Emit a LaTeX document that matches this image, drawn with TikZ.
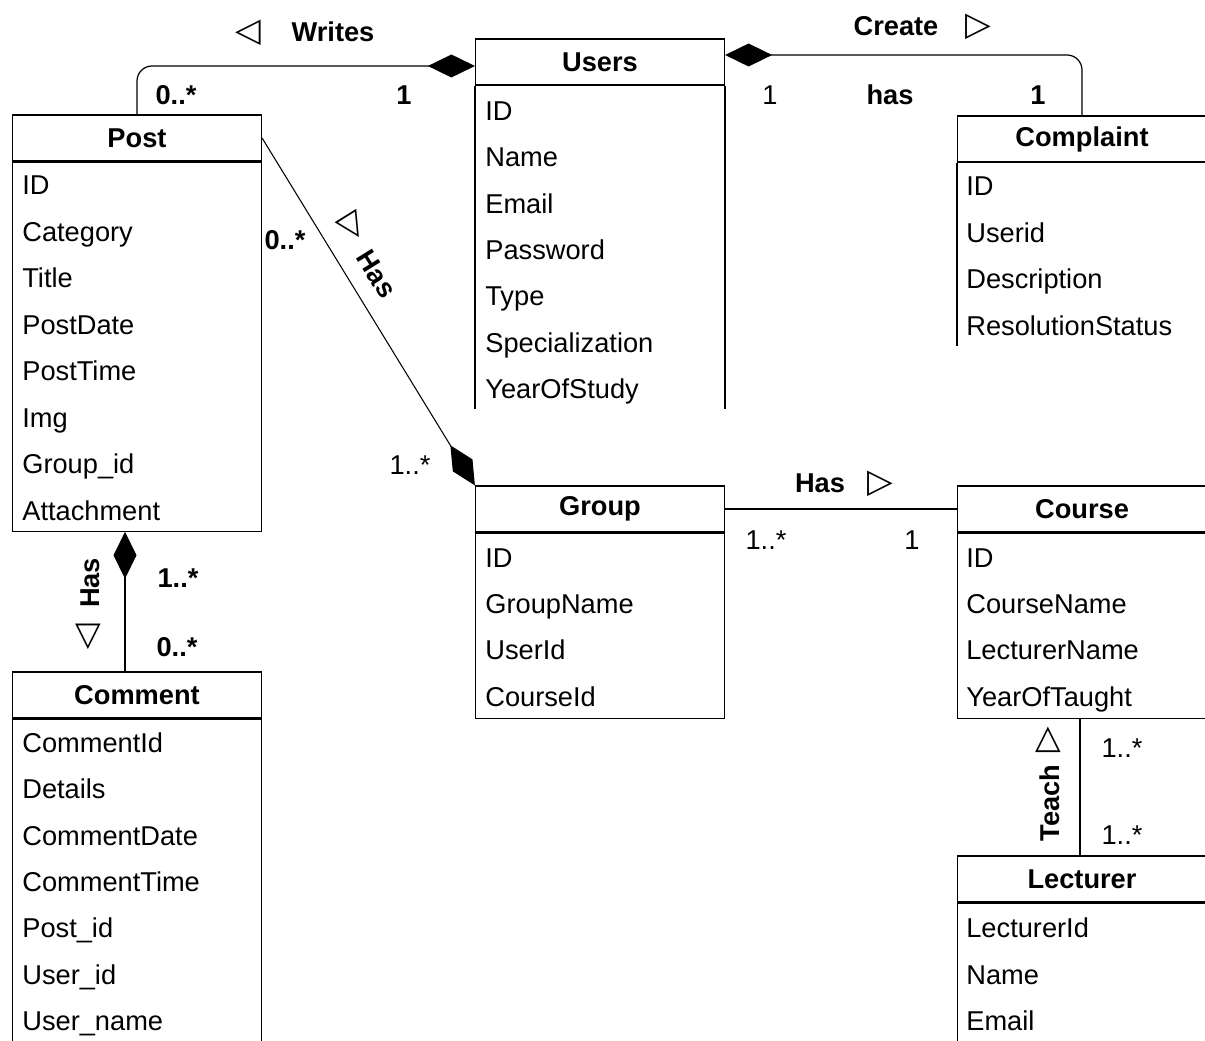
\documentclass[tikz,border=0pt]{standalone}
\usepackage{fontspec}
\setmainfont{Liberation Sans}
\newfontfamily\symfont{DejaVu Sans}
\usetikzlibrary{positioning,arrows.meta}

\begin{document}
\begin{tikzpicture}[x=0.02cm, y=-0.02cm,
        font=\fontsize{15.5}{18}\selectfont,
        classhead/.style={rectangle, draw, line width=0.7pt, minimum width=4.98cm, minimum height=0.92cm, font=\fontsize{15.5}{18}\selectfont\bfseries},
        classbody/.style={rectangle, draw, line width=0.7pt, minimum width=4.98cm, anchor=north},
        field/.style={anchor=west, inner sep=0pt, text height=11pt, text depth=3.5pt},
        mult/.style={inner sep=0pt, text height=11pt, text depth=0pt},
        bmult/.style={mult, font=\fontsize{15.5}{18}\selectfont\bfseries},
        rel/.style={inner sep=0pt, text height=11pt, text depth=0pt, font=\fontsize{15.5}{18}\selectfont\bfseries},
        tri/.style={inner sep=0pt, font=\fontsize{19}{20}\symfont},
        assoc/.style={line width=0.7pt},
        comp/.style={line width=0.7pt, {Diamond[length=0.94cm, width=0.46cm]}-}
    ]
    \useasboundingbox (0,0) rectangle (1205,1041);

    % classes
    \node[classhead] (post) at (137,138) {Post};
    \node[classbody, minimum height=7.38cm, below=0pt of post] (postbody) {};
    \foreach \f [count=\i from 0] in {ID,Category,Title,PostDate,PostTime,Img,Group\_id,Attachment}
        \node[field] (post-\i) at (22,{188+46.5*\i}) {\f};

    \node[classhead] (users) at (600,62) {Users};
    \draw[line width=0.7pt] (users.south west) -- ++(0,323);
    \draw[line width=0.7pt] (users.south east) -- ++(0,323);
    \foreach \f [count=\i from 0] in {ID,Name,Email,Password,Type,Specialization,YearOfStudy}
        \node[field] (users-\i) at (485,{114+46.3*\i}) {\f};

    \node[classhead] (complaint) at (1082,139) {Complaint};
    \draw[line width=0.7pt] (complaint.south west) -- ++(0,183);
    \foreach \f [count=\i from 0] in {ID,Userid,Description,ResolutionStatus}
        \node[field] (complaint-\i) at (966,{189+46.5*\i}) {\f};

    \node[classhead] (group) at (600,509) {Group};
    \node[classbody, minimum height=3.7cm, below=0pt of group] (groupbody) {};
    \foreach \f [count=\i from 0] in {ID,GroupName,UserId,CourseId}
        \node[field] (group-\i) at (485,{561+46.2*\i}) {\f};

    \node[classhead] (course) at (1082,509) {Course};
    \node[classbody, minimum height=3.7cm, below=0pt of course] (coursebody) {};
    \foreach \f [count=\i from 0] in {ID,CourseName,LecturerName,YearOfTaught}
        \node[field] (course-\i) at (966,{561+46.2*\i}) {\f};

    \node[classhead] (comment) at (137,695) {Comment};
    \node[classbody, minimum height=8cm, below=0pt of comment] (commentbody) {};
    \foreach \f [count=\i from 0] in {CommentId,Details,CommentDate,CommentTime,Post\_id,User\_id,User\_name}
        \node[field] (comment-\i) at (22,{746+46.3*\i}) {\f};

    \node[classhead] (lecturer) at (1082,879) {Lecturer};
    \node[classbody, minimum height=5cm, below=0pt of lecturer] (lecturerbody) {};
    \foreach \f [count=\i from 0] in {LecturerId,Name,Email}
        \node[field] (lecturer-\i) at (966,{931+46.5*\i}) {\f};

    % Writes
    \draw[comp, rounded corners=0.3cm] ([yshift=-0.08cm]users.west) -| (post.north);
    \node[tri] (wtri) at (248,33) {◁};
    \node[rel] (writes) at (333,32) {Writes};
    \node[bmult] (wm1) at (176,95) {0..*};
    \node[bmult] (wm2) at (404,95) {1};

    % Create / has
    \draw[comp, rounded corners=0.3cm] ([yshift=0.14cm]users.east) -| (complaint.north);
    \node[rel] (create) at (896,26) {Create};
    \node[tri] (ctri) at (978,27) {▷};
    \node[mult] (cm1) at (770,95) {1};
    \node[rel] (has1) at (890,95) {has};
    \node[bmult] (cm2) at (1038,95) {1};

    % Post - Group
    \draw[comp, line width=0.6pt] (group.north west) -- (post.east);
    \node[bmult] (pm1) at (285,240) {0..*};
    \node[tri, rotate=-58] (ptri) at (353,227) {▷};
    \node[rel, rotate=-58] (has2) at (377,274) {Has};
    \node[mult] (pm2) at (410,465) {1..*};

    % Post - Comment
    \draw[comp] ([xshift=-0.24cm]postbody.south) -- ([xshift=-0.24cm]comment.north);
    \node[rel, rotate=90] (has3) at (90,583) {Has};
    \node[tri] (htri) at (88,637) {▽};
    \node[bmult] (hm1) at (178,578) {1..*};
    \node[bmult] (hm2) at (177,647) {0..*};

    % Group - Course
    \draw[assoc] (group.east) -- (course.west);
    \node[rel] (has4) at (820,483) {Has};
    \node[tri] (gtri) at (880,484) {▷};
    \node[mult] (gm1) at (766,540) {1..*};
    \node[mult] (gm2) at (912,540) {1};

    % Course - Lecturer
    \draw[assoc] ([xshift=-0.04cm]coursebody.south) -- ([xshift=-0.04cm]lecturer.north);
    \node[rel, rotate=90] (teach) at (1050,803) {Teach};
    \node[tri] (ttri) at (1048,740) {△};
    \node[mult] (tm1) at (1122,748) {1..*};
    \node[mult] (tm2) at (1122,835) {1..*};
\end{tikzpicture}
\end{document}
